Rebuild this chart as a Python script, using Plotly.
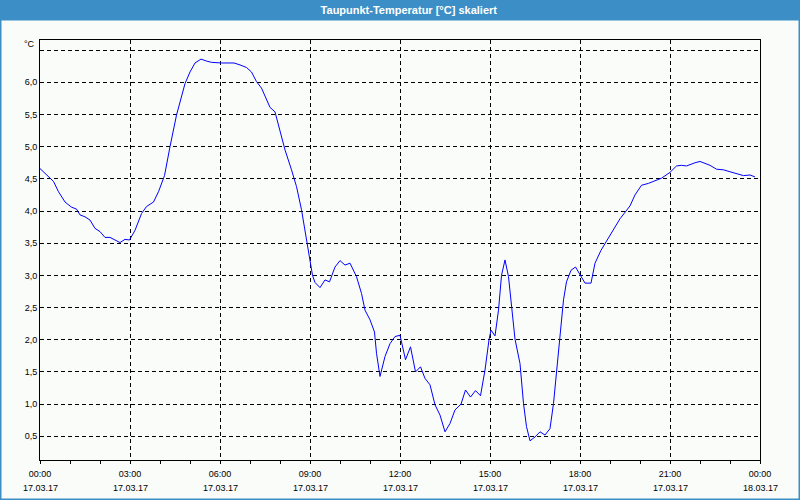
import datetime as dt
import plotly.graph_objects as go

# dew point readings, 17.03.17
times = [
    "00:00", "00:10", "00:20", "00:27", "00:37", "00:50", "01:03", "01:13", "01:20", "01:30",
    "01:40", "01:50", "02:00", "02:10", "02:20", "02:30", "02:40", "02:50", "02:59", "03:10",
    "03:23", "03:33", "03:47", "03:57", "04:09", "04:20", "04:33", "04:50", "05:00", "05:10",
    "05:22", "05:33", "05:43", "06:03", "06:28", "06:40", "06:53", "07:03", "07:13", "07:23",
    "07:33", "07:40", "07:50", "08:00", "08:10", "08:23", "08:33", "08:43", "08:53", "09:00",
    "09:05", "09:10", "09:20", "09:30", "09:39", "09:50", "10:00", "10:10", "10:20", "10:33",
    "10:43", "10:50", "11:00", "11:09", "11:13", "11:20", "11:30", "11:40", "11:50", "12:00",
    "12:03", "12:11", "12:21", "12:31", "12:41", "12:50", "13:00", "13:10", "13:20", "13:30",
    "13:40", "13:50", "14:02", "14:11", "14:21", "14:31", "14:41", "14:50", "14:58", "15:02",
    "15:10", "15:17", "15:23", "15:30", "15:37", "15:43", "15:50", "16:00", "16:07", "16:13",
    "16:20", "16:30", "16:40", "16:50", "17:00", "17:07", "17:13", "17:20", "17:27", "17:33",
    "17:42", "17:51", "18:00", "18:10", "18:22", "18:30", "18:42", "19:00", "19:20", "19:40",
    "19:50", "20:03", "20:17", "20:30", "20:43", "21:00", "21:13", "21:23", "21:33", "21:50",
    "22:00", "22:10", "22:20", "22:33", "22:47", "23:00", "23:13", "23:27", "23:40", "23:50",
]
dew_point = [
    4.66, 4.59, 4.52, 4.46, 4.30, 4.14, 4.06, 4.03, 3.94, 3.91,
    3.86, 3.73, 3.68, 3.59, 3.59, 3.55, 3.51, 3.56, 3.55, 3.70,
    3.96, 4.07, 4.14, 4.30, 4.55, 5.00, 5.49, 5.98, 6.16, 6.30,
    6.36, 6.33, 6.31, 6.30, 6.30, 6.27, 6.23, 6.16, 6.01, 5.91,
    5.72, 5.61, 5.54, 5.26, 4.95, 4.64, 4.38, 4.02, 3.55, 3.19,
    3.00, 2.89, 2.81, 2.93, 2.90, 3.13, 3.23, 3.16, 3.19, 2.98,
    2.72, 2.46, 2.31, 2.12, 1.79, 1.43, 1.74, 1.94, 2.05, 2.07,
    1.97, 1.69, 1.89, 1.50, 1.58, 1.40, 1.30, 0.99, 0.83, 0.57,
    0.70, 0.91, 1.00, 1.22, 1.11, 1.21, 1.13, 1.53, 2.00, 2.15,
    2.06, 2.46, 3.00, 3.24, 2.98, 2.49, 2.01, 1.63, 1.01, 0.65,
    0.43, 0.49, 0.57, 0.52, 0.62, 1.01, 1.48, 2.05, 2.62, 2.90,
    3.08, 3.13, 3.00, 2.88, 2.88, 3.19, 3.39, 3.63, 3.88, 4.08,
    4.25, 4.40, 4.43, 4.47, 4.51, 4.60, 4.70, 4.71, 4.70, 4.75,
    4.77, 4.74, 4.71, 4.65, 4.64, 4.61, 4.58, 4.55, 4.56, 4.53,
]

day = dt.datetime(2017, 3, 17)
x_vals = [day + dt.timedelta(hours=int(t[:2]), minutes=int(t[3:])) for t in times]

tick_hours = [0, 3, 6, 9, 12, 15, 18, 21, 24]
tick_times = [day + dt.timedelta(hours=h) for h in tick_hours]
y_ticks = [0.5, 1.0, 1.5, 2.0, 2.5, 3.0, 3.5, 4.0, 4.5, 5.0, 5.5, 6.0, 6.5]
y_labels = [("%.1f" % v).replace(".", ",") for v in y_ticks[:-1]] + [""]

title_text = "Taupunkt-Temperatur [°C] skaliert"
blue = "#3c8fc6"
bg = "#fafcfa"
font = "Liberation Sans, Arial, sans-serif"

fig = go.Figure()
fig.add_trace(go.Scatter(x=x_vals, y=dew_point, mode="lines",
                         line=dict(color="#0000ff", width=1), hoverinfo="skip"))

fig.update_layout(
    width=800, height=500,
    margin=dict(l=40, r=40, t=40, b=40),
    paper_bgcolor=bg, plot_bgcolor=bg,
    showlegend=False,
    font=dict(family=font, size=9, color="#000000"),
    title=dict(text="<b>" + title_text + "</b>", x=0.511, xanchor="center",
               y=1 - 10.5 / 500, yanchor="middle",
               font=dict(family=font, size=11, color="white")),
)

fig.update_xaxes(
    range=[tick_times[0], tick_times[-1]],
    tickvals=tick_times, tickformat="%H:%M",
    ticks="outside", ticklen=3, tickcolor="black",
    minor=dict(dtick=3600000, tick0=tick_times[0], ticks="outside", ticklen=3,
               tickcolor="black", showgrid=False),
    showgrid=True, gridcolor="black", gridwidth=1, griddash="4px,3px",
    showline=True, linecolor="black", linewidth=1, mirror=True,
    zeroline=False, ticklabelstandoff=2,
)
fig.update_yaxes(
    range=[0.132, 6.657],
    tickvals=y_ticks, ticktext=y_labels,
    ticks="", showgrid=True, gridcolor="black", gridwidth=1, griddash="4px,3px",
    showline=True, linecolor="black", linewidth=1, mirror=True,
    zeroline=False,
)

# date row under the time labels
for t in tick_times:
    fig.add_annotation(x=t, xref="x", y=-28 / 420, yref="paper",
                       text=t.strftime("%d.%m.%y"), showarrow=False,
                       xanchor="center", yanchor="middle", font=dict(size=9))

# unit label in place of the top tick
fig.add_annotation(x=-3 / 720, xref="paper", y=(460 - 44.5) / 420, yref="paper",
                   text="°C", showarrow=False, xanchor="right", yanchor="middle",
                   font=dict(size=9))

# window frame and title bar
fig.add_shape(type="rect", xref="paper", yref="paper", layer="below",
              x0=-40 / 720, x1=1 + 40 / 720, y0=1 + 19.5 / 420, y1=1 + 40 / 420,
              fillcolor=blue, line=dict(width=0))
fig.add_shape(type="rect", xref="paper", yref="paper", layer="below",
              x0=-39.5 / 720, x1=1 + 39.5 / 720, y0=-39.5 / 420, y1=1 + 40 / 420,
              fillcolor="rgba(0,0,0,0)", line=dict(color=blue, width=2))

fig.write_html("out.html", config={"displayModeBar": False},
               post_script="document.body.style.margin='0';")
